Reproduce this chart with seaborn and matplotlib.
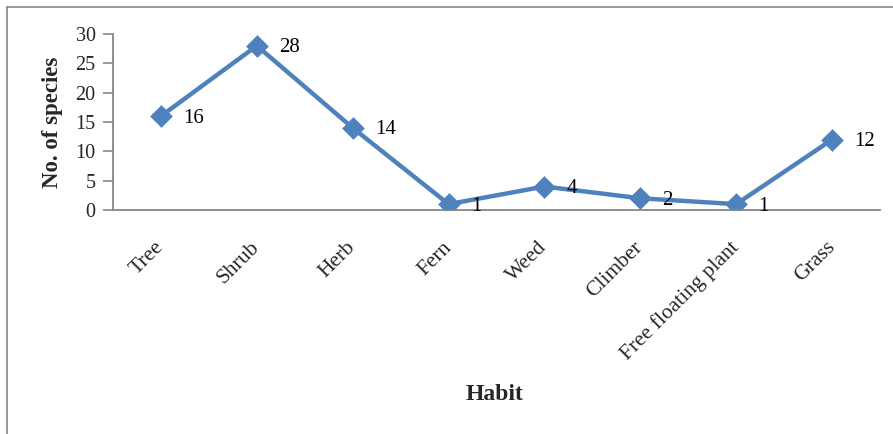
import matplotlib
matplotlib.use("Agg")
import matplotlib.pyplot as plt
import matplotlib.transforms as mtransforms
import seaborn as sns
import pandas as pd
import numpy as np
from matplotlib.lines import Line2D

habits = ["Tree", "Shrub", "Herb", "Fern", "Weed", "Climber", "Free floating plant", "Grass"]
species = [16, 28, 14, 1, 4, 2, 1, 12]
y_ticks = [0, 5, 10, 15, 20, 25, 30]

sns.set_theme(style="white")
plt.rcParams['font.family'] = ['Liberation Serif', 'DejaVu Serif']

color = "#4F81BD"
axis_grey = "#868686"

df = pd.DataFrame({"Habit": habits, "Species": species})

fig = plt.figure(figsize=(8.93, 4.34), dpi=100)
ax = fig.add_axes([113/893, 1 - 210/434, (880 - 113)/893, (210 - 34)/434])

sns.pointplot(data=df, x="Habit", y="Species", order=habits, color=color,
              markers="D", markersize=9, linewidth=3.2, ax=ax, errorbar=None)

for i, (h, v) in enumerate(zip(habits, species)):
    ax.annotate(str(v), (i, v), xytext=(16, -1.5), textcoords="offset points",
                ha="left", va="center", fontsize=15, color="black")

ax.set_xlim(-0.5, len(habits) - 0.5)
ax.set_ylim(0, 30)
ax.set_yticks(y_ticks)
ax.set_yticklabels([str(t) for t in y_ticks], fontsize=14.5)

ax.set_xticks(range(len(habits)))
ax.set_xticklabels(habits, rotation=45, ha="right", va="center",
                   rotation_mode="anchor", fontsize=15.5)
shift = mtransforms.ScaledTranslation(4/100, 0, fig.dpi_scale_trans)
for lbl in ax.get_xticklabels():
    lbl.set_transform(lbl.get_transform() + shift)
ax.set_xticks(np.arange(-0.5, len(habits), 1.0), minor=True)
ax.tick_params(axis="x", which="major", length=0, pad=25)
ax.tick_params(axis="x", which="minor", length=6.5, color=axis_grey, width=1.2, direction="out")
ax.tick_params(axis="y", length=7, color=axis_grey, width=1.2, direction="out", pad=5.5, left=True)

for s in ["top", "right"]:
    ax.spines[s].set_visible(False)
for s in ["left", "bottom"]:
    ax.spines[s].set_color(axis_grey)
    ax.spines[s].set_linewidth(1.3)

ax.set_ylabel("No. of species", fontsize=16.5, fontweight="bold")
ax.yaxis.set_label_coords((63 - 113)/767, 0.5)
ax.set_xlabel("")
fig.text(495/893, 1 - 395/434, "Habit", ha="center", va="center", fontsize=17, fontweight="bold")

# outer chart border (only left and top visible in the crop)
fig.add_artist(Line2D([7/893, 7/893], [0, 1 - 7/434], transform=fig.transFigure, color=axis_grey, lw=1.2))
fig.add_artist(Line2D([7/893, 1], [1 - 7/434, 1 - 7/434], transform=fig.transFigure, color=axis_grey, lw=1.2))

fig.savefig("out.png", dpi=100)
